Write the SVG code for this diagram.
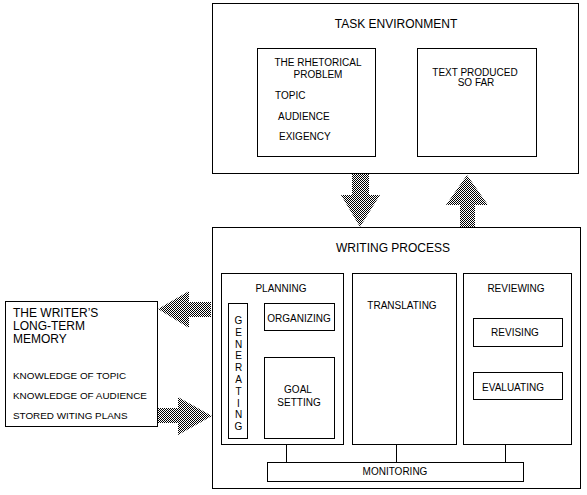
<svg xmlns="http://www.w3.org/2000/svg" width="587" height="495" viewBox="0 0 587 495">
<defs>
<pattern id="dither" width="2" height="2" patternUnits="userSpaceOnUse">
<rect width="2" height="2" fill="#fff"/>
<rect width="1" height="1" fill="#000"/>
<rect x="1" y="1" width="1" height="1" fill="#000"/>
</pattern>
<style>
rect.b{fill:#fff;stroke:#000;stroke-width:1}
text{font-family:"Liberation Sans",Arial,sans-serif;fill:#000}
.h{font-size:12px}
.m{font-size:12px}
.t{font-size:10px}
.s{font-size:9.9px}
.c{text-anchor:middle}
.arrow{fill:url(#dither);stroke:none}
line{stroke:#000;stroke-width:1}
</style>
</defs>
<rect width="587" height="495" fill="#fff"/>

<g id="task-environment">
<rect class="b" x="212.5" y="3.5" width="366" height="170"/>
<text class="h c" x="396" y="28">TASK ENVIRONMENT</text>
</g>
<g id="rhetorical-problem">
<rect class="b" x="257.5" y="48.5" width="118" height="108"/>
<text class="t c" x="318" y="66">THE RHETORICAL</text>
<text class="t c" x="318" y="78">PROBLEM</text>
<text class="t" x="275" y="99">TOPIC</text>
<text class="t" x="278" y="120">AUDIENCE</text>
<text class="t" x="279" y="140">EXIGENCY</text>
</g>
<g id="text-produced">
<rect class="b" x="417.5" y="48.5" width="119" height="108"/>
<text class="t c" x="475" y="76">TEXT PRODUCED</text>
<text class="t c" x="476" y="86">SO FAR</text>
</g>

<g id="writing-process">
<rect class="b" x="212.5" y="227.5" width="368" height="261"/>
<text class="h c" x="393" y="252">WRITING PROCESS</text>
</g>
<g id="planning">
<rect class="b" x="221.5" y="273.5" width="122" height="171"/>
<text class="t c" x="281" y="292">PLANNING</text>
</g>
<g id="generating">
<rect class="b" x="228.5" y="303.5" width="19" height="135"/>
<text class="t c" x="238.5" y="324">G</text>
<text class="t c" x="238.5" y="335.8">E</text>
<text class="t c" x="238.5" y="347.6">N</text>
<text class="t c" x="238.5" y="359.4">E</text>
<text class="t c" x="238.5" y="371.2">R</text>
<text class="t c" x="238.5" y="383">A</text>
<text class="t c" x="238.5" y="394.8">T</text>
<text class="t c" x="238.5" y="406.6">I</text>
<text class="t c" x="238.5" y="418.4">N</text>
<text class="t c" x="238.5" y="430.2">G</text>
</g>
<g id="organizing">
<rect class="b" x="264.5" y="303.5" width="70" height="27"/>
<text class="t c" x="299" y="322">ORGANIZING</text>
</g>
<g id="goal-setting">
<rect class="b" x="264.5" y="357.5" width="70" height="81"/>
<text class="t c" x="298" y="393">GOAL</text>
<text class="t c" x="299" y="406">SETTING</text>
</g>
<g id="translating">
<rect class="b" x="352.5" y="273.5" width="104" height="171"/>
<text class="t c" x="402" y="309">TRANSLATING</text>
</g>
<g id="reviewing">
<rect class="b" x="463.5" y="273.5" width="108" height="171"/>
<text class="t c" x="516" y="292">REVIEWING</text>
</g>
<g id="revising">
<rect class="b" x="473.5" y="318.5" width="89" height="28"/>
<text class="t c" x="515" y="336">REVISING</text>
</g>
<g id="evaluating">
<rect class="b" x="473.5" y="372.5" width="89" height="27"/>
<text class="t c" x="513" y="391">EVALUATING</text>
</g>
<g id="monitoring">
<rect class="b" x="267.5" y="462.5" width="256" height="19"/>
<text class="t c" x="395" y="475">MONITORING</text>
</g>

<g id="long-term-memory">
<rect class="b" x="5.5" y="301.5" width="152" height="125"/>
<text class="m" x="13" y="317">THE WRITER’S</text>
<text class="m" x="13" y="330">LONG-TERM</text>
<text class="m" x="13" y="343">MEMORY</text>
<text class="s" x="13" y="379">KNOWLEDGE OF TOPIC</text>
<text class="s" x="13" y="399">KNOWLEDGE OF AUDIENCE</text>
<text class="s" x="13" y="419">STORED WITING PLANS</text>
</g>

<g id="connectors">
<line x1="286.5" y1="444.5" x2="286.5" y2="462.5"/>
<line x1="396.5" y1="444.5" x2="396.5" y2="462.5"/>
<line x1="505.5" y1="444.5" x2="505.5" y2="462.5"/>
<polygon class="arrow" points="352,174 369,174 369,195 380,195 360,227 341,195 352,195"/>
<polygon class="arrow" points="467,175 488,205 475,205 475,227 460,227 460,205 446,205"/>
<polygon class="arrow" points="158,309 189,291 189,302 211,302 211,317 189,317 189,328"/>
<polygon class="arrow" points="158,408 178,408 178,397 212,416 178,435 178,423 158,423"/>
</g>
</svg>
